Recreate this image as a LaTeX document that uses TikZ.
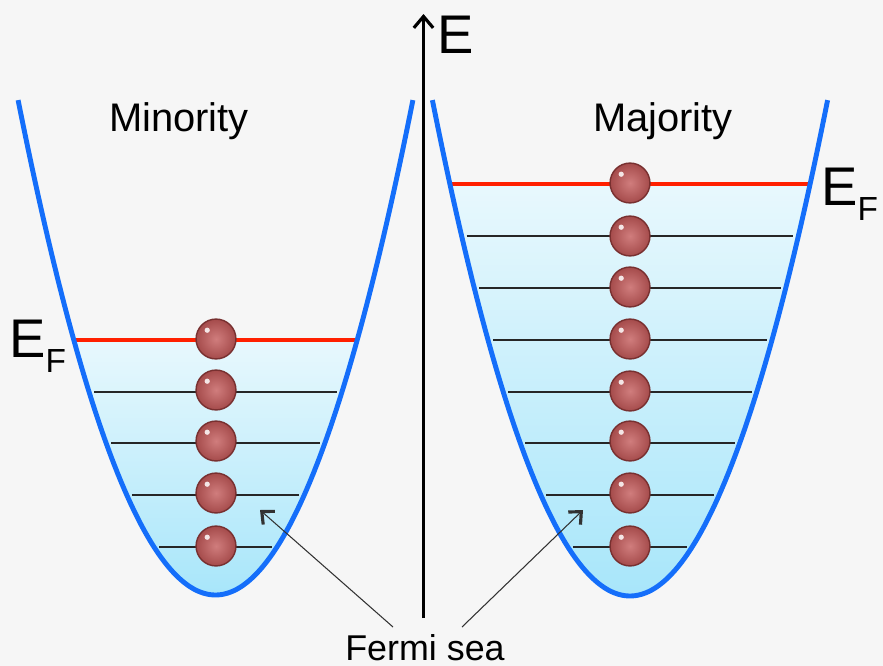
\documentclass[tikz,border=0pt]{standalone}
\usepackage{fontspec}
\setmainfont{Liberation Sans}
\usetikzlibrary{arrows.meta,calc}
\definecolor{bg}{RGB}{246,246,246}
\definecolor{curveblue}{RGB}{20,110,250}
\definecolor{fermired}{RGB}{255,32,0}
\definecolor{seatop}{RGB}{232,248,253}
\definecolor{seabot}{RGB}{168,230,250}
\definecolor{ballin}{RGB}{208,125,125}
\definecolor{ballout}{RGB}{165,75,75}
\definecolor{ballrim}{RGB}{120,48,48}
\definecolor{pointergray}{RGB}{50,50,50}
\begin{document}
\begin{tikzpicture}[x=0.02cm,y=-0.02cm,
  band/.style={curveblue, line width=2.8pt},
  fermiline/.style={fermired, line width=2.8pt},
  level/.style={black!85, line width=1.1pt},
  ballnode/.style={circle, minimum size=22.7pt, inner sep=0pt, draw=ballrim, line width=0.8pt,
     inner color=ballin, outer color=ballout,
     path picture={\fill[white,opacity=0.85] ($(path picture bounding box.center)+(-5pt,5pt)$) circle (1.5pt);}},
  axisarrow/.style={line width=1.7pt, -{Straight Barb[length=6.5pt,width=11pt,line width=1.8pt]}},
  pointer/.style={pointergray, line width=0.6pt, -{Straight Barb[length=5.5pt,width=10pt,line width=1.8pt]}},
  biglabel/.style={font=\fontsize{22.7pt}{27pt}\selectfont, anchor=base},
  efE/.style={font=\fontsize{31pt}{31pt}\selectfont, anchor=base west, inner sep=0pt},
]
\fill[bg] (0,0) rectangle (883,666);
\useasboundingbox (0,0) rectangle (883,666);

% Fermi sea fills
\shade[top color=seatop,bottom color=seabot] plot[domain=73.8:357.2,samples=80] (\x,{595-1.27*((\x-215.5)/10)^2}) -- cycle;
\shade[top color=seatop,bottom color=seabot] plot[domain=449.9:810.1,samples=80] (\x,{596-1.27*((\x-630)/10)^2}) -- cycle;

% levels
\foreach \yy in {392,443,495,547}{
  \pgfmathsetmacro\dx{10*sqrt((595-\yy)/1.27)-5}
  \draw[level] (215.5-\dx,\yy) -- (215.5+\dx,\yy);
}
\foreach \yy in {236,288,340,392,443,495,547}{
  \pgfmathsetmacro\dx{10*sqrt((596-\yy)/1.27)-5}
  \draw[level] (630-\dx,\yy) -- (630+\dx,\yy);
}
% Fermi levels
\draw[fermiline] (73.8,340) -- (357.2,340);
\draw[fermiline] (449.9,184) -- (810.1,184);

% bands
\draw[band] plot[domain=18.1:412.9,samples=120] (\x,{595-1.27*((\x-215.5)/10)^2});
\draw[band] plot[domain=432.4:827.6,samples=120] (\x,{596-1.27*((\x-630)/10)^2});

% electrons
\foreach \yy [count=\i] in {339,390,441,493,546}{
  \node[ballnode] (bL\i) at (216,\yy) {};
}
\foreach \yy [count=\i] in {183,236,287,339,391,441,493,546}{
  \node[ballnode] (bR\i) at (630,\yy) {};
}

% energy axis
\coordinate (ebot) at (423.5,618);
\coordinate (etop) at (423.5,14);
\draw[axisarrow] (ebot) -- (etop);
\node[efE] (Elab) at (437,53) {E};

% labels
\node[biglabel] (minor) at (179,131) {Minority};
\node[biglabel] (major) at (663,131) {Majority};
\node[efE] (efL) at (9,357) {E\raisebox{-9pt}{\fontsize{19pt}{19pt}\selectfont F}};
\node[efE] (efR) at (821,205) {E\raisebox{-9pt}{\fontsize{19pt}{19pt}\selectfont F}};

% Fermi sea
\node[font=\fontsize{20.4pt}{24pt}\selectfont, anchor=base, inner sep=0pt] (fermi) at (425,660) {Fermi sea};
\coordinate (fsL) at (393,627);
\coordinate (fsR) at (462,627);
\coordinate (tipL) at (260,510);
\coordinate (tipR) at (583,510);
\draw[pointer] (fsL) -- (tipL);
\draw[pointer] (fsR) -- (tipR);
\end{tikzpicture}
\end{document}
